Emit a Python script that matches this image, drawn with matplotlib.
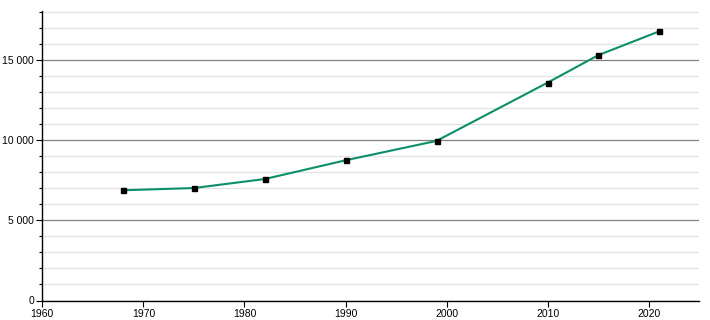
import matplotlib
matplotlib.use("Agg")
import matplotlib.pyplot as plt
from matplotlib.ticker import MultipleLocator, FuncFormatter

# data
years = [1968, 1975, 1982, 1990, 1999, 2010, 2015, 2021]
population = [6880, 7020, 7580, 8750, 9960, 13600, 15310, 16790]

plt.rcParams["font.family"] = ["Liberation Sans", "DejaVu Sans"]

fig = plt.figure(figsize=(7.1, 3.2), dpi=100)
ax = fig.add_axes([42.3 / 710, 1 - 300.5 / 320, (699.3 - 42.3) / 710, (300.5 - 10.5) / 320])

ax.set_xlim(1960, 2025)
ax.set_ylim(0, 18100)

ax.xaxis.set_major_locator(MultipleLocator(10))
ax.yaxis.set_major_locator(MultipleLocator(5000))
ax.yaxis.set_minor_locator(MultipleLocator(1000))
ax.yaxis.set_major_formatter(
    FuncFormatter(lambda v, p: f"{int(v):,}".replace(",", " "))
)

# grid
ax.grid(axis="y", which="major", color="#808080", linewidth=0.9)
ax.grid(axis="y", which="minor", color="#e2e2e2", linewidth=0.9)
ax.set_axisbelow(True)

ax.plot(years, population, color="#0a8f6a", linewidth=1.5, zorder=3)
ax.plot(years, population, linestyle="none", marker="s", markersize=3.6,
        color="black", zorder=4)

for side in ["top", "right"]:
    ax.spines[side].set_visible(False)
for side in ["left", "bottom"]:
    ax.spines[side].set_color("black")
    ax.spines[side].set_linewidth(1.0)

ax.tick_params(axis="both", which="major", direction="out", length=4,
               width=0.8, labelsize=7.5, colors="black", pad=2)
ax.tick_params(axis="y", which="minor", direction="out", length=2.5, width=0.8)

fig.savefig("out.png", dpi=100)
